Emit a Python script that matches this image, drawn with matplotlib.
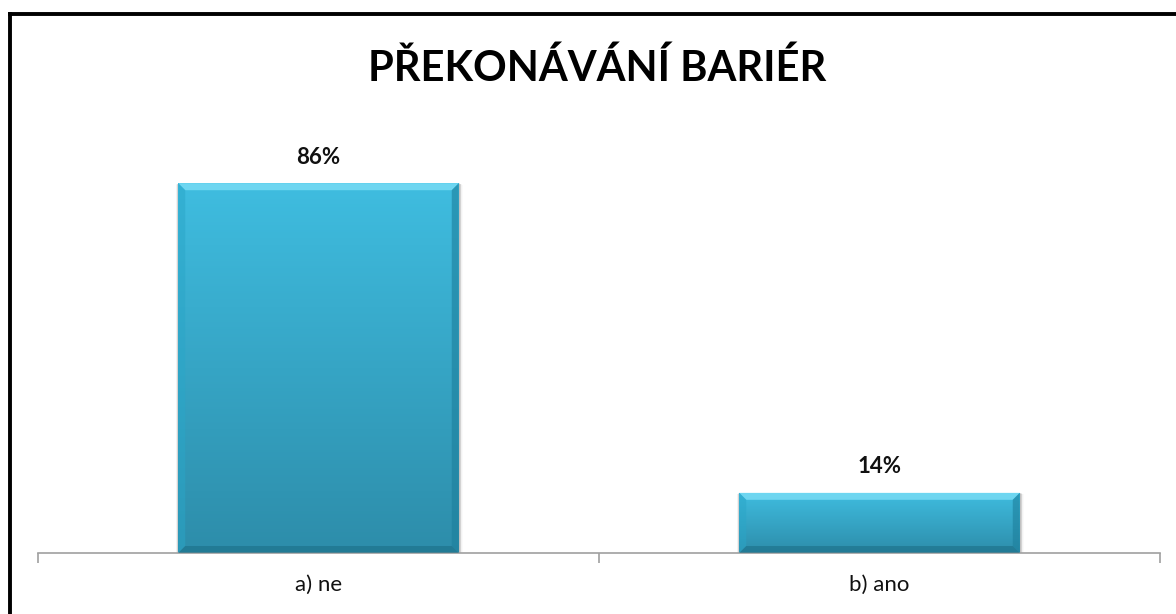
import matplotlib
matplotlib.use('Agg')
import matplotlib.pyplot as plt
import numpy as np
from matplotlib.lines import Line2D
from matplotlib.patches import Polygon, Rectangle
from matplotlib.colors import LinearSegmentedColormap

categories = ['a) ne', 'b) ano']
values = [86, 14]
value_labels = ['86%', '14%']
title = 'PŘEKONÁVÁNÍ BARIÉR'

W, H, DPI = 1176, 614, 100
fig = plt.figure(figsize=(W / DPI, H / DPI), dpi=DPI)
fig.patch.set_facecolor('white')

# plot area in pixels
left, right, bottom, top = 38, 1160, 553, 123
ax = fig.add_axes([left / W, (H - bottom) / H, (right - left) / W, (bottom - top) / H])
ax.set_xlim(-0.5, len(categories) - 0.5)
ax.set_ylim(0, 100)
ax.patch.set_alpha(0)

x = np.arange(len(categories))
bars = ax.bar(x, values, width=0.5, color='none', edgecolor='none', zorder=2)

# pixel -> data scale
px_x = (len(categories)) / (right - left)
px_y = 100 / (bottom - top)

grad = LinearSegmentedColormap.from_list('g', ['#2d8daa', '#3fbde0'])
for b in bars:
    x0, y0 = b.get_x(), b.get_y()
    w, h = b.get_width(), b.get_height()
    # soft shadow
    for k, a in zip(range(1, 6), [0.09, 0.07, 0.05, 0.03, 0.02]):
        ax.add_patch(Rectangle((x0 - k * px_x * 0.5, y0 - k * px_y * 0.3), w + k * px_x * 1.4, h,
                               facecolor='black', alpha=a, edgecolor='none', zorder=1))
    # gradient body
    img = np.linspace(0, 1, 256).reshape(-1, 1)
    im = ax.imshow(img, cmap=grad, aspect='auto', origin='lower',
                   extent=(x0, x0 + w, y0, y0 + h), zorder=2)
    im.set_clip_path(b)
    # bevel
    bx, by = 7 * px_x, 7 * px_y
    top_strip = Polygon([(x0, y0 + h), (x0 + w, y0 + h), (x0 + w - bx, y0 + h - by),
                         (x0 + bx, y0 + h - by)], closed=True,
                        facecolor='#7fe0f8', alpha=0.75, edgecolor='none', zorder=3)
    left_strip = Polygon([(x0, y0), (x0, y0 + h), (x0 + bx, y0 + h - by), (x0 + bx, y0 + by)],
                         closed=True, facecolor='#2aa6c8', alpha=0.5, edgecolor='none', zorder=3)
    right_strip = Polygon([(x0 + w, y0), (x0 + w, y0 + h), (x0 + w - bx, y0 + h - by),
                           (x0 + w - bx, y0 + by)], closed=True,
                          facecolor='#1d7f9c', alpha=0.6, edgecolor='none', zorder=3)
    bot_strip = Polygon([(x0, y0), (x0 + w, y0), (x0 + w - bx, y0 + by), (x0 + bx, y0 + by)],
                        closed=True, facecolor='#1c6f88', alpha=0.6, edgecolor='none', zorder=3)
    for p in (top_strip, left_strip, right_strip, bot_strip):
        ax.add_patch(p)

for b, lab in zip(bars, value_labels):
    ax.text(b.get_x() + b.get_width() / 2, b.get_height() + 26 * px_y, lab,
            ha='center', va='center', fontsize=16, fontweight='bold',
            family=['Lato', 'DejaVu Sans'], color='#111111')

# axes styling
for s in ['left', 'right', 'top']:
    ax.spines[s].set_visible(False)
ax.spines['bottom'].set_color('#a0a0a0')
ax.spines['bottom'].set_linewidth(1.2)
ax.set_yticks([])
ax.set_xticks(x)
ax.set_xticklabels(categories, fontsize=16, family=['Lato', 'DejaVu Sans'], color='#111111')
ax.tick_params(axis='x', which='major', length=0, pad=16)
ax.set_xticks(np.arange(len(categories) + 1) - 0.5, minor=True)
ax.tick_params(axis='x', which='minor', length=7, width=1.2, color='#a0a0a0', direction='out')

fig.text(597 / W, 1 - 68 / H, title, ha='center', va='center', fontsize=30,
         fontweight='bold', family=['Lato', 'DejaVu Sans'], color='black')

# frame (left and top only visible)
fig.add_artist(Line2D([10 / W, 10 / W], [0, 1 - 13.5 / H], color='black', lw=2.8,
                      transform=fig.transFigure, solid_capstyle='projecting'))
fig.add_artist(Line2D([10 / W, 1], [1 - 13.5 / H, 1 - 13.5 / H], color='black', lw=2.8,
                      transform=fig.transFigure, solid_capstyle='projecting'))

fig.savefig('out.png', dpi=DPI)
